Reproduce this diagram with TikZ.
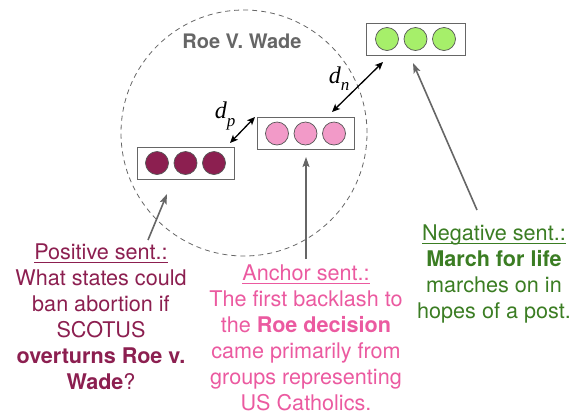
\documentclass[tikz,border=0pt]{standalone}
\usepackage{fontspec}
\setmainfont{TeX Gyre Heros}
\newfontfamily\tms{Liberation Serif}
\usetikzlibrary{arrows.meta}
\definecolor{cmaroon}{HTML}{8C1F50}
\definecolor{cpinktext}{HTML}{EB5AA0}
\definecolor{cpinkfill}{HTML}{F29AC8}
\definecolor{cgreenfill}{HTML}{A6EF6A}
\definecolor{cgreentext}{HTML}{3B7D23}
\definecolor{cgray}{HTML}{666666}
\definecolor{cdotline}{HTML}{555555}
\newcommand\uln[1]{\setbox0\hbox{#1}\rlap{\rule[-2.8pt]{\wd0}{1pt}}\box0}
\tikzset{
  vecbox/.style={draw=cgray, line width=0.9pt, fill=white, minimum width=97pt, minimum height=32pt, inner sep=0pt},
  dot/.style={circle, draw=cdotline, line width=0.7pt, minimum size=23pt, inner sep=0pt},
  txt/.style={font=\fontsize{21.6}{26}\selectfont, align=center, inner sep=0pt},
  grayarrow/.style={draw=cgray, line width=1.6pt, -{Stealth[length=10pt,width=7pt,inset=2pt]}},
  blackarrow/.style={draw=black, line width=1.3pt, {Stealth[length=8pt,width=7pt,inset=2pt]}-{Stealth[length=8pt,width=7pt,inset=2pt]}},
  dlabel/.style={inner sep=0pt, font=\tms\itshape\fontsize{24}{24}\selectfont}
}
\newcommand\subsc[1]{\raisebox{-0.3em}{\fontsize{17}{17}\selectfont #1}}
\begin{document}
\begin{tikzpicture}[x=1pt,y=-1pt]
\useasboundingbox (0,0) rectangle (581,416);
% dashed cluster circle
\draw[cgray, line width=0.8pt, dash pattern=on 5pt off 4pt] (244,133) circle[radius=123pt];
\node[font=\bfseries\fontsize{20}{20}\selectfont, text=cgray, inner sep=0pt] (roe) at (242,41) {Roe V. Wade};
% boxes
\node[vecbox, minimum width=99pt] (neg) at (415.5,39) {};
\node[vecbox] (anc) at (305.5,133.5) {};
\node[vecbox] (pos) at (185.5,163) {};
% dots
\node[dot, fill=cgreenfill] (n1) at (387,39) {};
\node[dot, fill=cgreenfill] (n2) at (415.5,39) {};
\node[dot, fill=cgreenfill] (n3) at (444,39) {};
\node[dot, fill=cpinkfill] (a1) at (277,133.5) {};
\node[dot, fill=cpinkfill] (a2) at (305.5,133.5) {};
\node[dot, fill=cpinkfill] (a3) at (334,133.5) {};
\node[dot, fill=cmaroon] (p1) at (157,163) {};
\node[dot, fill=cmaroon] (p2) at (185.5,163) {};
\node[dot, fill=cmaroon] (p3) at (214,163) {};
% distance arrows
\coordinate (dpA) at (230,143);
\coordinate (dpB) at (255,117);
\coordinate (dnA) at (332,112);
\coordinate (dnB) at (383,62);
\draw[blackarrow] (dpA) -- (dpB);
\draw[blackarrow] (dnA) -- (dnB);
\node[dlabel] (dp) at (225,116) {d\subsc{p}};
\node[dlabel] (dn) at (339,79) {d\subsc{n}};
% texts
\node[txt, text=cmaroon, anchor=north] (postext) at (101,244) {\uln{Positive sent.:}\\What states could\\ban abortion if\\SCOTUS\\\textbf{overturns Roe v.}\\\textbf{Wade}?};
\node[txt, text=cpinktext, anchor=north] (anctext) at (306,265) {\uln{Anchor sent.:}\\The first backlash to\\the \textbf{Roe decision}\\came primarily from\\groups representing\\US Catholics.};
\node[txt, text=cgreentext, anchor=north] (negtext) at (494,225) {\uln{Negative sent.:}\\\textbf{March for life}\\marches on in\\hopes of a post.};
% pointer arrows
\coordinate (posT) at (148,240);
\coordinate (posH) at (167,194);
\coordinate (ancT) at (306,259);
\coordinate (ancH) at (306,157);
\coordinate (negT) at (477,210);
\coordinate (negH) at (413,63);
\draw[grayarrow] (posT) -- (posH);
\draw[grayarrow] (ancT) -- (ancH);
\draw[grayarrow] (negT) -- (negH);
\end{tikzpicture}
\end{document}
